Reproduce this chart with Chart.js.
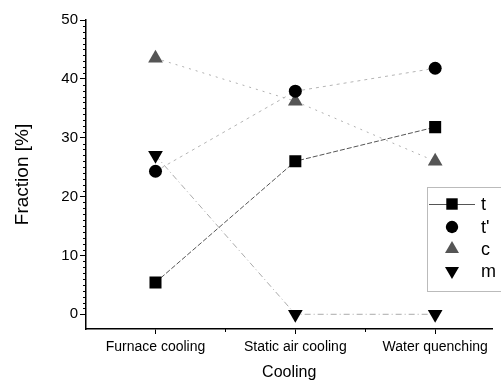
<!DOCTYPE html>
<html>
<head>
<meta charset="utf-8">
<script src="https://cdn.jsdelivr.net/npm/chart.js@4/dist/chart.umd.min.js"></script>
<style>
  html, body { margin: 0; padding: 0; background: #fff; }
  #wrap { width: 501px; height: 385px; }
</style>
</head>
<body>
<div id="wrap"><canvas id="c" width="501" height="385"></canvas></div>
<script>
const categories = ["Furnace cooling", "Static air cooling", "Water quenching"];
const tValues = [5.4, 26, 31.8];
const tPrimeValues = [24.3, 37.9, 41.8];
const cValues = [43.5, 36.2, 26];
const mValues = [27, 0, 0];
const seriesNames = ["t", "t'", "c", "m"];
const yMajorTicks = [0, 10, 20, 30, 40, 50];

const FONT = "'Liberation Sans', Arial, sans-serif";

function pts(vals) { return vals.map((v, i) => ({ x: i + 1, y: v })); }

const datasets = [
  { label: seriesNames[0], data: pts(tValues), borderColor: '#555', borderWidth: 1, borderDash: [5, 2],
    pointStyle: 'rect', pointRadius: 8.5, pointBackgroundColor: '#000', pointBorderColor: '#000', pointBorderWidth: 0, pointRotation: 0 },
  { label: seriesNames[1], data: pts(tPrimeValues), borderColor: '#b5b5b5', borderWidth: 1, borderDash: [3, 4],
    pointStyle: 'circle', pointRadius: 6.5, pointBackgroundColor: '#000', pointBorderColor: '#000', pointBorderWidth: 0, pointRotation: 0 },
  { label: seriesNames[2], data: pts(cValues), borderColor: '#b0b0b0', borderWidth: 1, borderDash: [2, 5],
    pointStyle: 'triangle', pointRadius: 8.5, pointBackgroundColor: '#555', pointBorderColor: '#555', pointBorderWidth: 0, pointRotation: 0 },
  { label: seriesNames[3], data: pts(mValues), borderColor: '#aaaaaa', borderWidth: 1, borderDash: [6, 3, 1, 3],
    pointStyle: 'triangle', pointRadius: 8.5, pointBackgroundColor: '#000', pointBorderColor: '#000', pointBorderWidth: 0, pointRotation: 180 }
];

const minorTicks = {
  id: 'minorTicks',
  afterDraw(chart) {
    const y = chart.scales.y, x = chart.scales.x, ctx = chart.ctx;
    ctx.save();
    ctx.strokeStyle = '#000';
    ctx.lineWidth = 1;
    for (let v = 0; v <= 50; v += 1) {
      if (v % 10 === 0) continue;
      const py = Math.round(y.getPixelForValue(v)) + 0.5;
      ctx.beginPath();
      ctx.moveTo(chart.chartArea.left - 3, py);
      ctx.lineTo(chart.chartArea.left, py);
      ctx.stroke();
    }
    for (let v = 1.5; v < 3.4; v += 1) {
      const px = Math.round(x.getPixelForValue(v)) + 0.5;
      ctx.beginPath();
      ctx.moveTo(px, chart.chartArea.bottom);
      ctx.lineTo(px, chart.chartArea.bottom + 3);
      ctx.stroke();
    }
    ctx.restore();
  }
};

const boxLegend = {
  id: 'boxLegend',
  afterDraw(chart) {
    const ctx = chart.ctx;
    const left = 427, top = 187, right = 502, bottom = 291;
    ctx.save();
    ctx.fillStyle = '#fff';
    ctx.fillRect(left, top, right - left, bottom - top);
    ctx.strokeStyle = '#777';
    ctx.lineWidth = 1;
    ctx.setLineDash([1, 1]);
    ctx.strokeRect(left + 0.5, top + 0.5, right - left, bottom - top);
    ctx.setLineDash([]);
    const rows = [204, 227, 249, 271];
    chart.data.datasets.forEach((ds, i) => {
      const yy = rows[i];
      if (i === 0) {
        ctx.strokeStyle = '#555';
        ctx.lineWidth = 1.2;
        ctx.beginPath();
        ctx.moveTo(429, yy + 0.5);
        ctx.lineTo(475, yy + 0.5);
        ctx.stroke();
      }
      ctx.fillStyle = ds.pointBackgroundColor;
      ctx.strokeStyle = ds.pointBorderColor;
      Chart.helpers.drawPoint(ctx, {
        pointStyle: ds.pointStyle, rotation: ds.pointRotation,
        radius: ds.pointRadius * 0.95, borderWidth: 0
      }, 452, yy);
      ctx.fillStyle = '#000';
      ctx.font = "18px " + FONT;
      ctx.textBaseline = 'middle';
      ctx.textAlign = 'left';
      ctx.fillText(ds.label, 481, yy + 1);
    });
    ctx.restore();
  }
};

new Chart(document.getElementById('c'), {
  type: 'line',
  data: { datasets },
  plugins: [minorTicks, boxLegend],
  options: {
    responsive: false,
    animation: false,
    devicePixelRatio: 1,
    layout: { padding: { top: 20, right: 1, left: 0, bottom: 0 } },
    plugins: { legend: { display: false }, tooltip: { enabled: false } },
    scales: {
      x: {
        type: 'linear',
        min: 0.503, max: 3.41,
        afterBuildTicks(s) { s.ticks = categories.map((c, i) => ({ value: i + 1 })); },
        afterFit(s) { s.height = 56; s.paddingLeft = 0; s.paddingRight = 0; },
        ticks: {
          callback: (v) => categories[Math.round(v) - 1],
          color: '#000', font: { family: FONT, size: 14 }, padding: 5,
          maxRotation: 0, autoSkip: false
        },
        grid: { display: true, drawOnChartArea: false, drawTicks: true, tickLength: 5, tickColor: '#000' },
        border: { display: true, color: '#000', width: 1.5 },
        title: { display: true, text: 'Cooling', color: '#000', font: { family: FONT, size: 16 }, padding: { top: 0, bottom: 3 } }
      },
      y: {
        type: 'linear',
        min: -2.5, max: 50,
        afterBuildTicks(s) { s.ticks = yMajorTicks.map(v => ({ value: v })); },
        afterFit(s) { s.width = 86; s.paddingTop = 0; s.paddingBottom = 0; },
        ticks: { color: '#000', font: { family: FONT, size: 15 }, padding: 2 },
        grid: { display: true, drawOnChartArea: false, drawTicks: true, tickLength: 6, tickColor: '#000' },
        border: { display: true, color: '#000', width: 1.5 },
        title: { display: true, text: 'Fraction [%]', color: '#000', font: { family: FONT, size: 19 }, padding: { top: 11, bottom: 0 } }
      }
    }
  }
});
</script>
</body>
</html>
